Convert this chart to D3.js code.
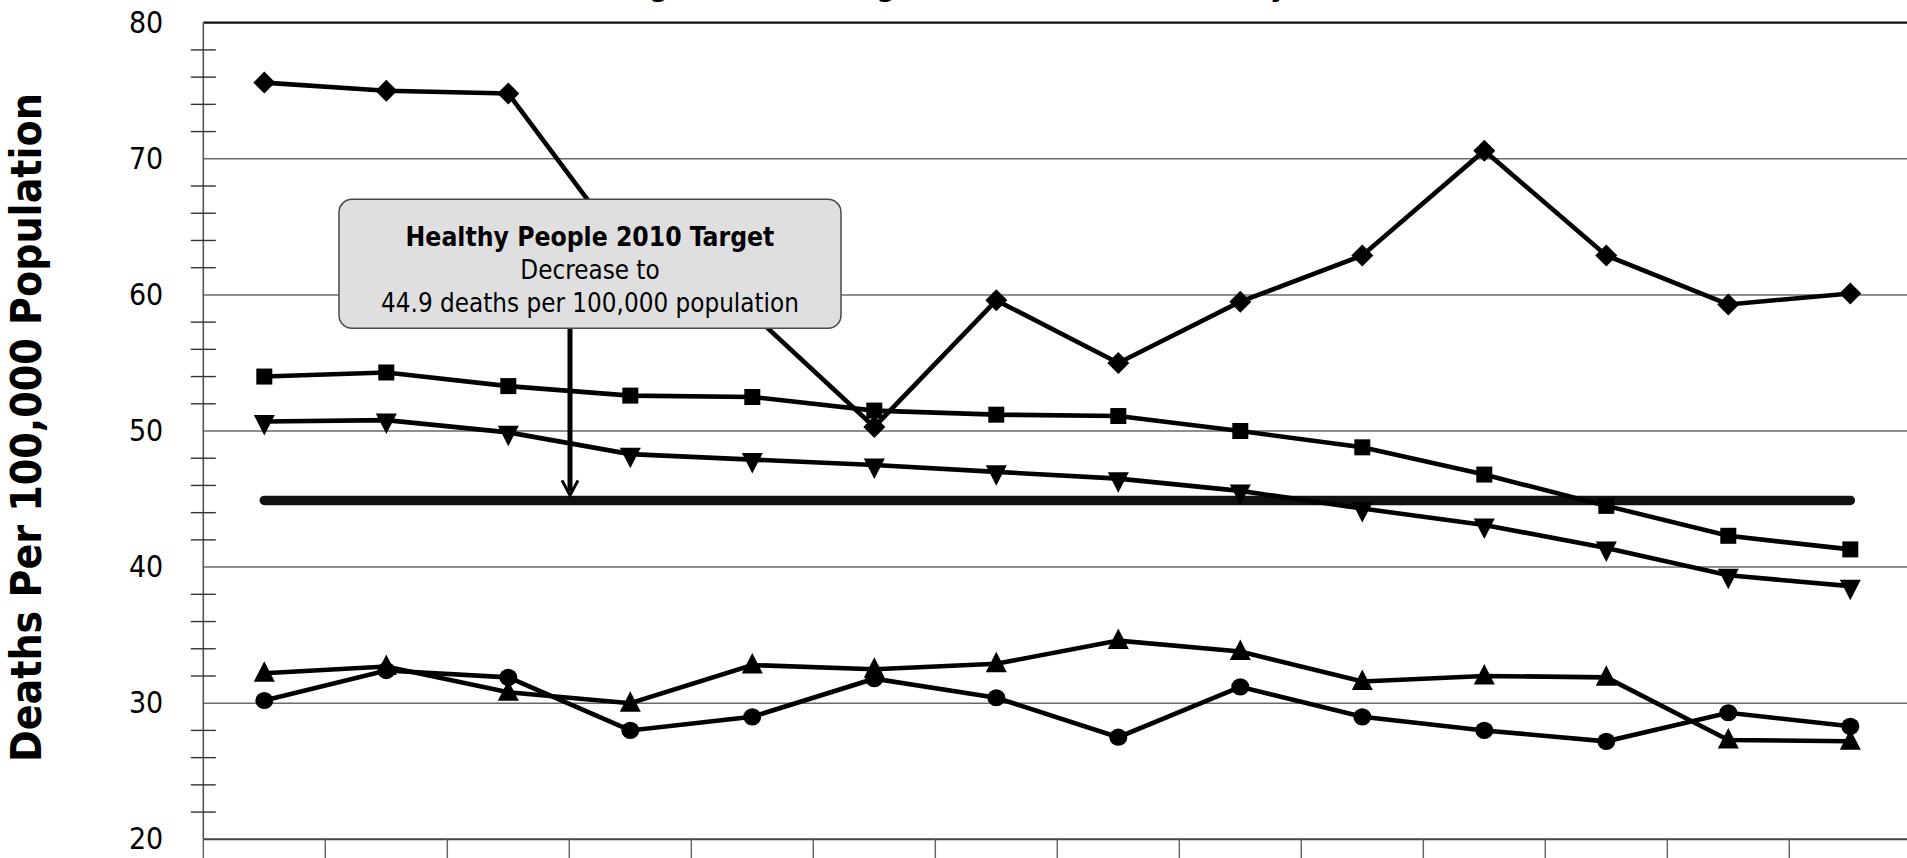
<!DOCTYPE html>
<html>
<head>
<meta charset="utf-8">
<script src="https://cdn.jsdelivr.net/npm/d3@7"></script>
<style>
  html, body { margin: 0; padding: 0; background: #fff; overflow: hidden; }
  svg { display: block; }
</style>
</head>
<body>
<svg id="chart" width="1907" height="858"></svg>
<script>
// ---------- data ----------
const categories = ["1990","1991","1992","1993","1994","1995","1996","1997","1998","1999","2000","2001","2002","2003"];
const seriesDiamond  = [75.6, 75.0, 74.8, 62.8, 58.6, 50.3, 59.6, 55.0, 59.5, 62.9, 70.6, 62.9, 59.3, 60.1];
const seriesSquare   = [54.0, 54.3, 53.3, 52.6, 52.5, 51.5, 51.2, 51.1, 50.0, 48.8, 46.8, 44.5, 42.3, 41.3];
const seriesTriDown  = [50.7, 50.8, 49.9, 48.3, 47.9, 47.5, 47.0, 46.5, 45.6, 44.3, 43.1, 41.4, 39.4, 38.6];
const seriesTriUp    = [32.2, 32.7, 30.8, 30.0, 32.8, 32.5, 32.9, 34.6, 33.8, 31.6, 32.0, 31.9, 27.3, 27.2];
const seriesCircle   = [30.2, 32.4, 31.9, 28.0, 29.0, 31.8, 30.4, 27.5, 31.2, 29.0, 28.0, 27.2, 29.3, 28.3];
const targetValue = 44.9;
const yMajorTicks = [20, 30, 40, 50, 60, 70, 80];
const yMinorTicks = [22,24,26,28,32,34,36,38,42,44,46,48,52,54,56,58,62,64,66,68,72,74,76,78];
const yAxisTitle = "Deaths Per 100,000 Population";
const chartTitle = "Lung Cancer Among Residents of the State by Year";
const calloutLines = ["Healthy People 2010 Target", "Decrease to", "44.9 deaths per 100,000 population"];

// ---------- layout ----------
const svg = d3.select("#chart");
const plotLeft = 203.3, plotRight = 1911.3, plotTop = 22.7, plotBottom = 839.3;
const fontFam = '"DejaVu Sans Condensed", "DejaVu Sans", sans-serif';

const x = d3.scaleBand().domain(categories).range([plotLeft, plotRight]).paddingInner(0).paddingOuter(0);
const cx = c => x(c) + x.bandwidth() / 2;
const y = d3.scaleLinear().domain([20, 80]).range([plotBottom, plotTop]);

// title (cropped at top of picture, as in the reference)
const title = svg.append("text").text(chartTitle)
  .attr("font-family", fontFam).attr("font-weight", "bold")
  .style("font-size", "30px").attr("x", 0).attr("y", 0);
(function placeTitle(){
  const node = title.node();
  const i1 = chartTitle.indexOf("g"), i3 = chartTitle.lastIndexOf("y");
  const ctr = i => { const e = node.getExtentOfChar(i); return e.x + e.width/2; };
  let fs = 30;
  const d = ctr(i3) - ctr(i1);
  fs = fs * (1279 - 659) / d;
  title.style("font-size", fs + "px");
  const shift = 659 - ctr(i1);
  title.attr("x", shift).attr("y", 3 - 0.23 * fs);
})();

// gridlines
svg.append("g").selectAll("line").data(yMajorTicks.filter(v => v > 20 && v < 80)).join("line")
  .attr("x1", plotLeft).attr("x2", plotRight)
  .attr("y1", d => y(d)).attr("y2", d => y(d))
  .attr("stroke", "#6a6a6a").attr("stroke-width", 1.5);

// top border (80)
svg.append("line").attr("x1", plotLeft).attr("x2", plotRight)
  .attr("y1", y(80)).attr("y2", y(80)).attr("stroke", "#111").attr("stroke-width", 2.2);

// left axis line
svg.append("line").attr("x1", plotLeft).attr("x2", plotLeft)
  .attr("y1", plotTop).attr("y2", plotBottom).attr("stroke", "#555").attr("stroke-width", 1.6);

// minor cross ticks
svg.append("g").selectAll("line").data(yMinorTicks).join("line")
  .attr("x1", plotLeft - 12.5).attr("x2", plotLeft + 12.5)
  .attr("y1", d => y(d)).attr("y2", d => y(d))
  .attr("stroke", "#333").attr("stroke-width", 1.4);

// y labels via axis
const yAxis = d3.axisLeft(y).tickValues(yMajorTicks).tickSize(0).tickPadding(40).tickFormat(d3.format("d"));
const yAxisG = svg.append("g").attr("transform", `translate(${plotLeft},0)`).call(yAxis);
yAxisG.select(".domain").remove();
yAxisG.selectAll("text").attr("font-family", fontFam).style("font-size", "30px").attr("fill", "#000");

// bottom axis & category boundary ticks
svg.append("line").attr("x1", plotLeft).attr("x2", plotRight)
  .attr("y1", plotBottom).attr("y2", plotBottom).attr("stroke", "#444").attr("stroke-width", 2);
svg.append("g").selectAll("line").data(categories).join("line")
  .attr("x1", d => x(d)).attr("x2", d => x(d))
  .attr("y1", plotBottom).attr("y2", plotBottom + 30)
  .attr("stroke", "#666").attr("stroke-width", 1.5);

// y axis title
const yt = svg.append("text").text(yAxisTitle)
  .attr("font-family", fontFam).attr("font-weight", "bold")
  .style("font-size", "40px").attr("text-anchor", "middle")
  .attr("transform", "translate(41,427.5) rotate(-90)");
(function(){ const w = yt.node().getComputedTextLength(); yt.style("font-size", (40 * 669 / w) + "px"); })();

// target line
const line = d3.line().x(d => cx(d.c)).y(d => y(d.v));
svg.append("path")
  .datum(categories.map(c => ({c, v: targetValue})))
  .attr("d", line).attr("fill", "none").attr("stroke", "#111")
  .attr("stroke-width", 9.5).attr("stroke-linecap", "round");

// series
const seriesList = [
  {vals: seriesDiamond, sym: "diamond"},
  {vals: seriesSquare, sym: "square"},
  {vals: seriesTriDown, sym: "tridown"},
  {vals: seriesTriUp, sym: "triup"},
  {vals: seriesCircle, sym: "circle"}
];
const symPath = {
  diamond: "M0,-11L11,0L0,11L-11,0Z",
  square: "M-8,-8H8V8H-8Z",
  tridown: "M-10.5,-6.5L10.5,-6.5L0,14Z",
  triup: "M-10.5,8.5L10.5,8.5L0,-12Z",
  circle: "M-9,0A9,8.6 0 1,0 9,0A9,8.6 0 1,0 -9,0Z"
};
seriesList.forEach(s => {
  const pts = categories.map((c, i) => ({c, v: s.vals[i]}));
  svg.append("path").datum(pts).attr("d", line)
    .attr("fill", "none").attr("stroke", "#000").attr("stroke-width", 4.6)
    .attr("stroke-linejoin", "miter");
  svg.append("g").selectAll("path").data(pts).join("path")
    .attr("transform", d => `translate(${cx(d.c)},${y(d.v)})`)
    .attr("d", symPath[s.sym]).attr("fill", "#000");
});

// arrow from callout to target line
const arrowX = 570;
const tipY = y(targetValue) - 5;
svg.append("line").attr("x1", arrowX).attr("x2", arrowX)
  .attr("y1", 328).attr("y2", tipY - 4).attr("stroke", "#000").attr("stroke-width", 5);
svg.append("path")
  .attr("d", `M${arrowX - 8},${tipY - 15}L${arrowX},${tipY}L${arrowX + 8},${tipY - 15}`)
  .attr("fill", "none").attr("stroke", "#000").attr("stroke-width", 3);

// callout box
svg.append("rect").attr("x", 339).attr("y", 199.3).attr("width", 502).attr("height", 129)
  .attr("rx", 13).attr("ry", 13)
  .attr("fill", "#dfdfdf").attr("stroke", "#4a4a4a").attr("stroke-width", 1.5);
const boxCx = 590;
const t1 = svg.append("text").text(calloutLines[0]).attr("x", boxCx).attr("y", 246)
  .attr("text-anchor", "middle").attr("font-family", fontFam).attr("font-weight", "bold").style("font-size", "22px");
const t2 = svg.append("text").text(calloutLines[1]).attr("x", boxCx).attr("y", 279)
  .attr("text-anchor", "middle").attr("font-family", fontFam).style("font-size", "22px");
const t3 = svg.append("text").text(calloutLines[2]).attr("x", boxCx).attr("y", 312)
  .attr("text-anchor", "middle").attr("font-family", fontFam).style("font-size", "22px");
(function(){
  const w1 = t1.node().getComputedTextLength(); t1.style("font-size", (22 * 369 / w1) + "px");
  const w3 = t3.node().getComputedTextLength(); const fs = 22 * 418 / w3;
  t3.style("font-size", fs + "px"); t2.style("font-size", fs + "px");
})();
</script>
</body>
</html>
